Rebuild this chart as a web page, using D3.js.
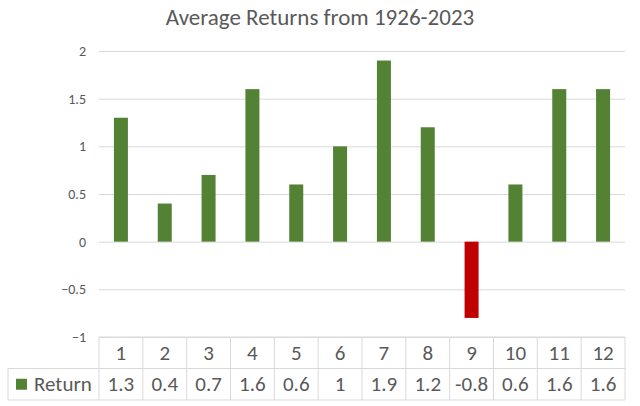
<!DOCTYPE html>
<html>
<head>
<meta charset="utf-8">
<script src="https://cdn.jsdelivr.net/npm/d3@7"></script>
<style>
  body { margin: 0; background: #fff; }
  text { font-family: Carlito, "Open Sans", "Noto Sans", sans-serif; fill: #595959; }
</style>
</head>
<body>
<main></main>
<script>
// chart data
const months = ["1", "2", "3", "4", "5", "6", "7", "8", "9", "10", "11", "12"];
const returns = [1.3, 0.4, 0.7, 1.6, 0.6, 1, 1.9, 1.2, -0.8, 0.6, 1.6, 1.6];
const returnLabels = ["1.3", "0.4", "0.7", "1.6", "0.6", "1", "1.9", "1.2", "-0.8", "0.6", "1.6", "1.6"];
const yTicks = [-1, -0.5, 0, 0.5, 1, 1.5, 2];
const seriesName = "Return";
const title = "Average Returns from 1926-2023";

const w = 640;
const h = 406;
const plot = { left: 99, right: 625, top: 51, bottom: 337 };
const rowH = 31.5;

const svg = d3.select("main").append("svg").attr("width", w).attr("height", h);

const x = d3.scaleBand().domain(months).range([plot.left, plot.right]).paddingInner(0).paddingOuter(0);
const y = d3.scaleLinear().domain([-1, 2]).range([plot.bottom, plot.top]);

// title
svg.append("text")
  .attr("x", w / 2)
  .attr("y", 25)
  .attr("text-anchor", "middle")
  .style("font-size", "23px")
  .text(title);

// gridlines + y labels
const yAxis = d3.axisLeft(y).tickValues(yTicks).tickSize(-(plot.right - plot.left)).tickFormat((d) => d3.format("")(d));
const gy = svg.append("g").attr("transform", `translate(${plot.left},0)`).call(yAxis);
gy.select(".domain").remove();
gy.selectAll(".tick line").attr("stroke", "#d9d9d9").attr("stroke-width", 1);
gy.selectAll(".tick text")
  .attr("x", -13)
  .style("font-size", "14px")
  .style("font-family", 'Carlito, "Open Sans", sans-serif')
  .attr("fill", "#595959");

// bars
const barW = 14;
svg.append("g")
  .selectAll("rect")
  .data(returns)
  .enter()
  .append("rect")
  .attr("x", (d, i) => x(months[i]) + x.bandwidth() / 2 - barW / 2)
  .attr("width", barW)
  .attr("y", (d) => y(Math.max(0, d)))
  .attr("height", (d) => Math.abs(y(d) - y(0)))
  .attr("fill", (d) => (d < 0 ? "#c00000" : "#548235"));

// data table
const table = svg.append("g");
const tTop = plot.bottom;
const lineColor = "#d9d9d9";
const legendLeft = 8;

// horizontal lines
table.append("line").attr("x1", plot.left).attr("x2", plot.right).attr("y1", tTop).attr("y2", tTop).attr("stroke", lineColor);
table.append("line").attr("x1", legendLeft).attr("x2", plot.right).attr("y1", tTop + rowH).attr("y2", tTop + rowH).attr("stroke", lineColor);
table.append("line").attr("x1", legendLeft).attr("x2", plot.right).attr("y1", tTop + 2 * rowH).attr("y2", tTop + 2 * rowH).attr("stroke", lineColor);

// vertical lines
const edges = months.map((m) => x(m)).concat([plot.right]);
table.selectAll(".vline")
  .data(edges)
  .enter()
  .append("line")
  .attr("x1", (d) => d)
  .attr("x2", (d) => d)
  .attr("y1", tTop)
  .attr("y2", tTop + 2 * rowH)
  .attr("stroke", lineColor);
table.append("line").attr("x1", legendLeft).attr("x2", legendLeft).attr("y1", tTop + rowH).attr("y2", tTop + 2 * rowH).attr("stroke", lineColor);

// header row
table.selectAll(".hdr")
  .data(months)
  .enter()
  .append("text")
  .attr("x", (d) => x(d) + x.bandwidth() / 2)
  .attr("y", tTop + rowH / 2 + 7)
  .attr("text-anchor", "middle")
  .style("font-size", "21px")
  .text((d) => d);

// value row
table.selectAll(".val")
  .data(returnLabels)
  .enter()
  .append("text")
  .attr("x", (d, i) => x(months[i]) + x.bandwidth() / 2)
  .attr("y", tTop + rowH * 1.5 + 7)
  .attr("text-anchor", "middle")
  .style("font-size", "21px")
  .text((d) => d);

// legend key
table.append("rect")
  .attr("x", 16)
  .attr("y", tTop + rowH * 1.5 - 5.5)
  .attr("width", 11)
  .attr("height", 11)
  .attr("fill", "#548235");
table.append("text")
  .attr("x", 34)
  .attr("y", tTop + rowH * 1.5 + 7)
  .style("font-size", "21px")
  .text(seriesName);
</script>
</body>
</html>
